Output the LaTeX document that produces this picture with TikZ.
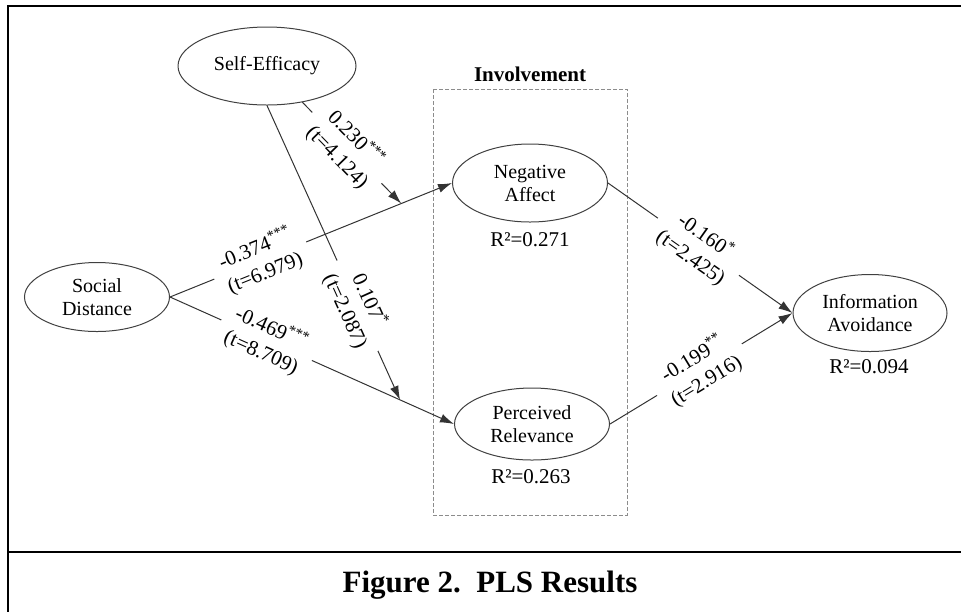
\documentclass[tikz,border=0pt]{standalone}
\usepackage{fontspec}
\setmainfont{Liberation Serif}
\usetikzlibrary{arrows.meta}
\usetikzlibrary{shapes.geometric}

\begin{document}
\begin{tikzpicture}[x=0.5pt,y=-0.5pt,font=\fontsize{10}{11.5}\selectfont,
>={Latex[length=7pt,width=4.5pt]}]
     \tikzstyle{construct}=[ellipse,draw=black!75,line width=0.5pt,align=center,inner sep=0pt]
     \tikzstyle{edge}=[draw=black!80,line width=0.5pt,->]
     \tikzstyle{coef}=[sloped,fill=white,align=center,inner xsep=5pt,inner ysep=0pt,
       font=\fontsize{10.5}{13}\selectfont]
     \tikzstyle{rsq}=[inner sep=1pt,font=\fontsize{10.5}{12}\selectfont]
     \tikzstyle{frame}=[line width=1.2pt,black]
     \tikzstyle{group}=[draw=black!45,line width=0.4pt,dash pattern=on 2pt off 1pt]

     \useasboundingbox (0,0) rectangle (961,612);
     \draw[frame] (961,6) -- (8,6) -- (8,612);
     \draw[frame] (8,552) -- (961,552);

     \draw[group] (433,89) rectangle (627,515);
     \node[font=\fontsize{10.5}{12}\selectfont\bfseries] (inv) at (530,74) {Involvement};

     \node[construct,minimum width=89pt,minimum height=39pt] (se) at (267,66) {Self-Efficacy};
     \node[construct,minimum width=72.5pt,minimum height=34.5pt] (sd) at (97,297) {Social\\Distance};
     \node[construct,minimum width=77.5pt,minimum height=39pt] (na) at (530,183) {Negative\\Affect};
     \node[construct,minimum width=77.5pt,minimum height=36pt] (pr) at (532,424) {Perceived\\Relevance};
     \node[construct,minimum width=77pt,minimum height=38.5pt] (ia) at (870,313) {Information\\Avoidance};

     \node[rsq] (na-r) at (530,240) {R²=0.271};
     \node[rsq] (pr-r) at (531,477) {R²=0.263};
     \node[rsq] (ia-r) at (869,367) {R²=0.094};

     \draw[edge] (sd.east) -- node[coef,pos=0.32] {-0.374\textsuperscript{***}\\(t=6.979)} coordinate[pos=0.82] (sd-na) (na.west);
     \draw[edge] (sd.east) -- node[coef,pos=0.34] {-0.469\textsuperscript{***}\\(t=8.709)} coordinate[pos=0.81] (sd-pr) (pr.west);
     \draw[edge] (se) -- node[coef,pos=0.45] {0.230\textsuperscript{***}\\(t=4.124)} (sd-na);
     \draw[edge] (se.south) -- node[coef,pos=0.68] {0.107\textsuperscript{*}\\(t=2.087)} (sd-pr);
     \draw[edge] (na.east) -- node[coef,pos=0.49] {-0.160\textsuperscript{*}\\(t=2.425)} (ia.west);
     \draw[edge] (pr.east) -- node[coef,pos=0.49] {-0.199\textsuperscript{**}\\(t=2.916)} (ia.west);

     \node[font=\fontsize{15.5}{18}\selectfont\bfseries] (title) at (490,585) {Figure 2.\ \ PLS Results};
 \end{tikzpicture}
\end{document}
